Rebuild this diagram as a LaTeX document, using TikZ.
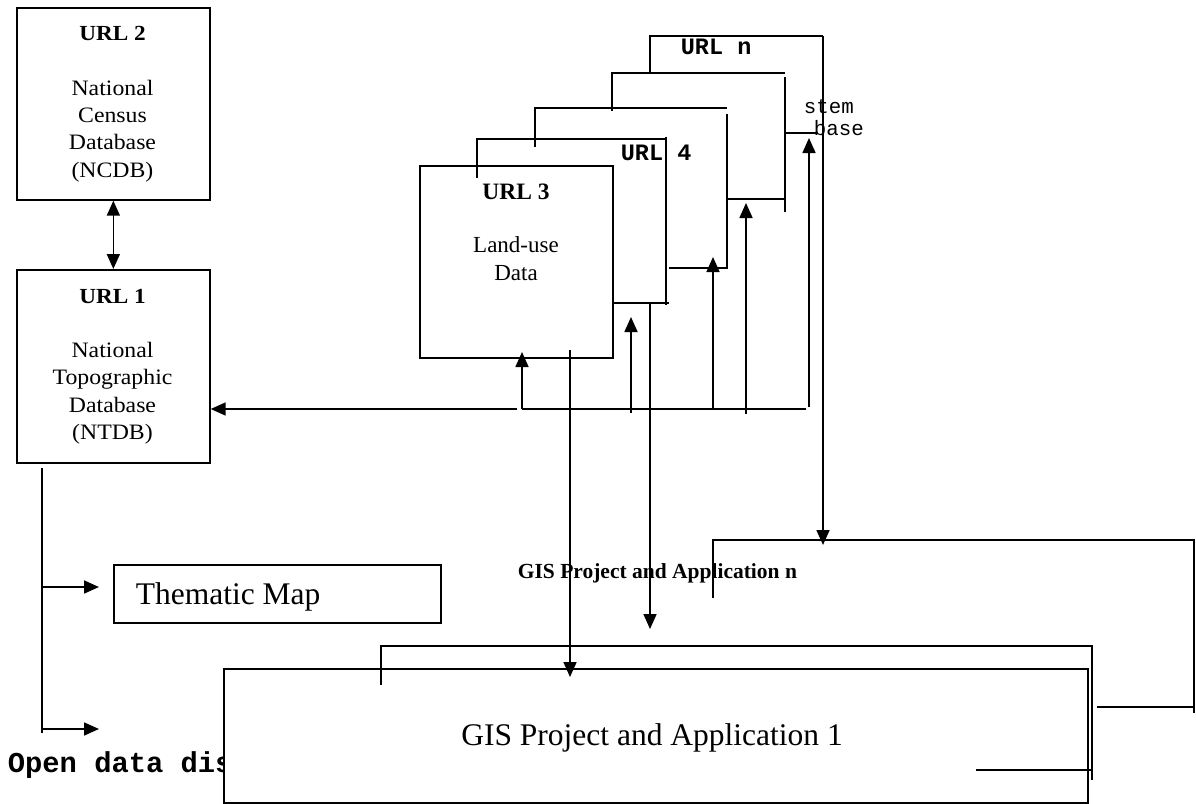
\documentclass[tikz,border=0pt]{standalone}
\usepackage{fontspec}
\setmainfont{Liberation Serif}
\setmonofont{Liberation Mono}
\newfontfamily\boxserif{Liberation Serif}[FakeStretch=1.08]
\usetikzlibrary{arrows.meta}
\begin{document}
\begin{tikzpicture}[x=1pt,y=-1pt,line width=1.7pt,
  box/.style={draw,line width=1.7pt,inner sep=0pt,anchor=north west},
  wbox/.style={box,fill=white},
  arr/.style={-{Triangle[length=15pt,width=13pt]}},
  darr/.style={{Triangle[length=15pt,width=13pt]}-{Triangle[length=15pt,width=13pt]}},
  ser/.style={font=\fontsize{22}{26}\selectfont\boxserif,anchor=base,inner sep=0pt},
  serb/.style={font=\fontsize{21.5}{26}\selectfont\boxserif\bfseries,anchor=base,inner sep=0pt},
  monob/.style={font=\fontsize{23.5}{28}\selectfont\ttfamily\bfseries,anchor=base west,inner sep=0pt},
  mono/.style={font=\fontsize{20.8}{24}\selectfont\ttfamily,anchor=base west,inner sep=0pt},
]
\useasboundingbox (0,0) rectangle (1196,803);

% ---- left column
\node[box,minimum width=193pt,minimum height=192pt] (ncdb) at (16,7) {};
\node[serb] (ncdb1) at (112.5,40) {URL 2};
\node[ser] (ncdb2) at (112.5,95) {National};
\node[ser] (ncdb3) at (112.5,122) {Census};
\node[ser] (ncdb4) at (112.5,149) {Database};
\node[ser] (ncdb5) at (112.5,177) {(NCDB)};

\node[box,minimum width=193pt,minimum height=193pt] (ntdb) at (16,269) {};
\node[serb] (ntdb1) at (112.5,303) {URL 1};
\node[ser] (ntdb2) at (112.5,357) {National};
\node[ser] (ntdb3) at (112.5,384) {Topographic};
\node[ser] (ntdb4) at (112.5,412) {Database};
\node[ser] (ntdb5) at (112.5,439) {(NTDB)};

\draw[darr] (ncdb.south) -- (ntdb.north);

\coordinate (busL) at (517,409);
\draw[arr] (busL) -- (ntdb.east |- busL);

\coordinate (t0) at (42,468);
\coordinate (t1) at (42,587);
\coordinate (t2) at (42,729);
\coordinate (t3) at (42,733);
\coordinate (a1) at (99,587);
\coordinate (a2) at (99,729);
\draw (t0) -- (t3);
\draw[arr] (t1) -- (a1);
\draw[arr] (t2) -- (a2);

\node[box,minimum width=327pt,minimum height=58pt] (them) at (113,564) {};
\node[anchor=base west,inner sep=0pt,font=\fontsize{31.5}{36}\selectfont] (themt) at (135,604) {Thematic Map};

\node[anchor=base west,inner sep=0pt,font=\fontsize{28.8}{32}\selectfont\ttfamily\bfseries] (open) at (7,772) {Open data dis};

% ---- GIS project boxes
\coordinate (gn1) at (713,598);
\coordinate (gn2) at (713,540);
\coordinate (gn3) at (1194,540);
\coordinate (gn4) at (1194,713);
\coordinate (gn5) at (1097,707);
\coordinate (gn6) at (1194,707);
\draw (gn1) -- (gn2) -- (gn3) -- (gn4);
\draw (gn5) -- (gn6);
\node[anchor=base west,inner sep=0pt,font=\fontsize{21.5}{26}\selectfont\bfseries] (gisn) at (517,578) {GIS Project and Application n};

\node[wbox,minimum width=864pt,minimum height=134pt] (gis1) at (223,668) {};
\node[anchor=base,inner sep=0pt,font=\fontsize{31.5}{36}\selectfont] (gis1t) at (652,745) {GIS Project and Application 1};

\coordinate (g21) at (381,685);
\coordinate (g22) at (381,646);
\coordinate (g23) at (1092,646);
\coordinate (g24) at (1092,780);
\coordinate (g25) at (976,770);
\coordinate (g26) at (1092,770);
\draw (g21) -- (g22) -- (g23) -- (g24);
\draw (g25) -- (g26);

% ---- URL stack
\node[box,minimum width=193pt,minimum height=192pt] (lu) at (419,165) {};
\node[font=\fontsize{23.5}{28}\selectfont\bfseries,anchor=base,inner sep=0pt] (lu1) at (516,199) {URL 3};
\node[font=\fontsize{23}{28}\selectfont,anchor=base,inner sep=0pt] (lu2) at (516,252) {Land-use};
\node[font=\fontsize{23}{28}\selectfont,anchor=base,inner sep=0pt] (lu3) at (516,280) {Data};

% URL 4 layer
\coordinate (u4a) at (477,178);
\coordinate (u4b) at (477,139);
\coordinate (u4c) at (667,139);
\coordinate (u4d) at (666,137);
\coordinate (u4e) at (666,305);
\coordinate (u4f) at (612,303);
\coordinate (u4g) at (669,303);
\draw (u4a) -- (u4b) -- (u4c);
\draw (u4d) -- (u4e);
\draw (u4f) -- (u4g);
\node[monob] (u4t) at (620,160) {URL 4};

% third layer
\coordinate (l3a) at (535,147);
\coordinate (l3b) at (535,108);
\coordinate (l3c) at (727,108);
\coordinate (l3d) at (727,114);
\coordinate (l3e) at (727,268);
\coordinate (l3f) at (669,268);
\draw (l3a) -- (l3b) -- (l3c);
\draw (l3d) -- (l3e) -- (l3f);

% fourth layer
\coordinate (l4a) at (612,111);
\coordinate (l4b) at (612,73);
\coordinate (l4c) at (785,73);
\coordinate (l4d) at (785,77);
\coordinate (l4e) at (785,212);
\coordinate (l4f) at (728,199);
\coordinate (l4g) at (785,199);
\coordinate (l4h) at (785,133);
\coordinate (l4i) at (818,133);
\draw (l4a) -- (l4b) -- (l4c);
\draw (l4d) -- (l4e);
\draw (l4f) -- (l4g);
\draw (l4h) -- (l4i);

% URL n layer
\coordinate (una) at (650,74);
\coordinate (unb) at (650,36);
\coordinate (unc) at (823,36);
\coordinate (und) at (823,545);
\draw (una) -- (unb) -- (unc);
\draw[arr] (unc) -- (und);
\node[monob] (unt) at (680,54) {URL n};
\node[mono] (st1) at (803,113) {stem};
\node[mono] (st2) at (813,135) {base};

% bus and arrows up
\coordinate (b1) at (522,409);
\coordinate (b2) at (806,409);
\draw (b1) -- (b2);
\coordinate (b1t) at (522,352);
\draw[arr] (b1) -- (b1t);
\coordinate (p2) at (631,413);
\coordinate (p2t) at (631,317);
\draw[arr] (p2) -- (p2t);
\coordinate (p3) at (713,409);
\coordinate (p3t) at (713,257);
\draw[arr] (p3) -- (p3t);
\coordinate (p4) at (746,414);
\coordinate (p4t) at (746,203);
\draw[arr] (p4) -- (p4t);
\coordinate (p5) at (809,407);
\coordinate (p5t) at (809,138);
\draw[arr] (p5) -- (p5t);

% arrows down
\coordinate (d1) at (570,350);
\coordinate (d1t) at (570,677);
\draw[arr] (d1) -- (d1t);
\coordinate (d2) at (650,303);
\coordinate (d2t) at (650,629);
\draw[arr] (d2) -- (d2t);
\end{tikzpicture}
\end{document}
